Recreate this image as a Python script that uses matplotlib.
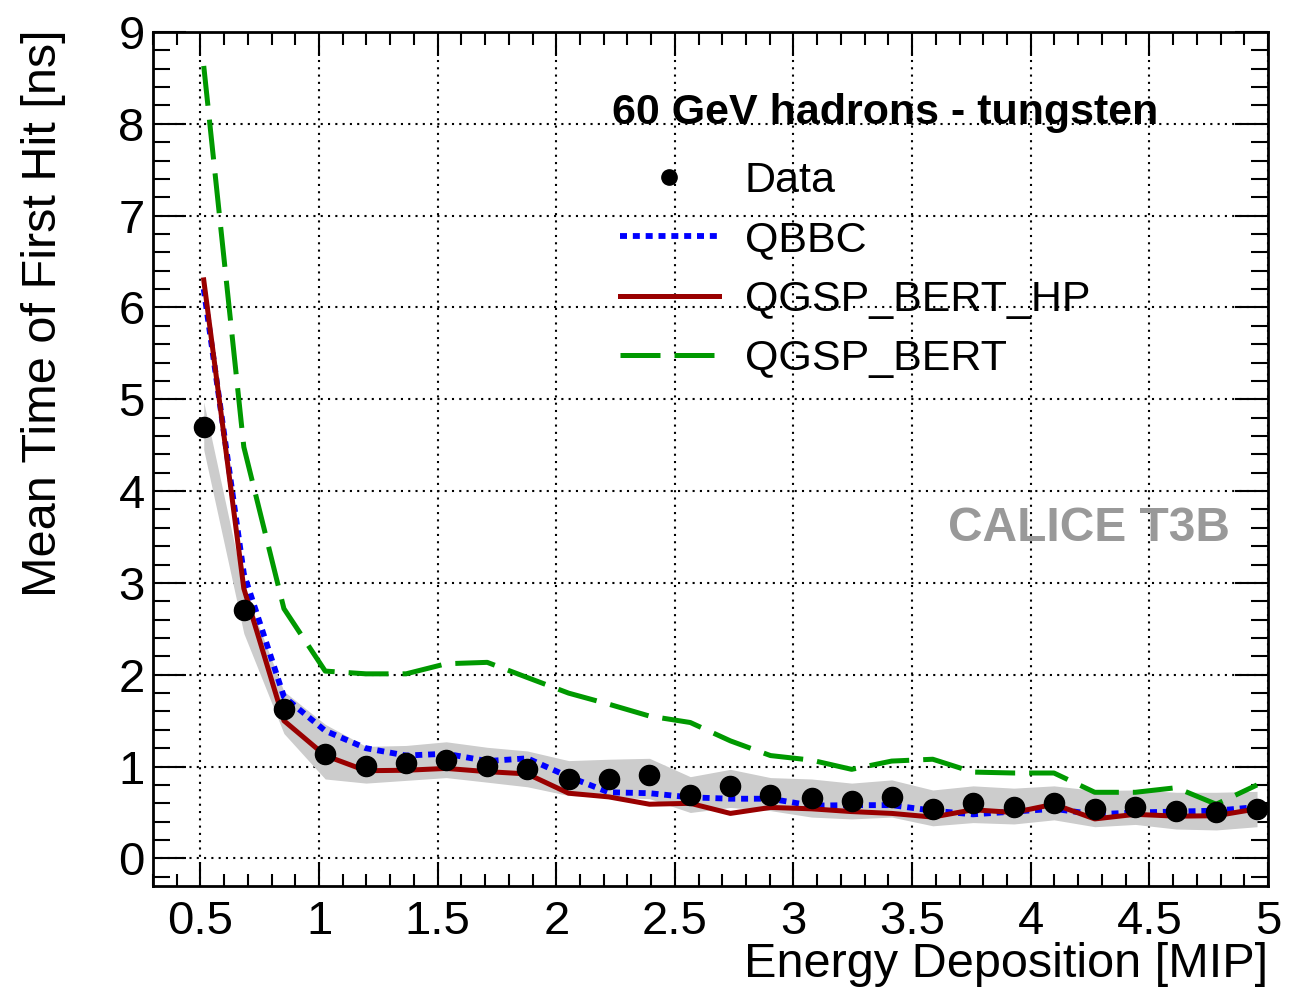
import matplotlib
matplotlib.use("Agg")
import matplotlib.pyplot as plt
from matplotlib.ticker import MultipleLocator
from matplotlib.lines import Line2D

plt.rcParams['font.family'] = ['Liberation Sans', 'DejaVu Sans']

# bin centres [MIP]
energy = [0.514, 0.683, 0.852, 1.026, 1.198, 1.367, 1.536, 1.709, 1.878,
          2.052, 2.221, 2.393, 2.565, 2.734, 2.903, 3.076, 3.245, 3.414,
          3.587, 3.757, 3.929, 4.098, 4.270, 4.441, 4.613, 4.782, 4.954]

# data points [ns]
data_t = [4.70, 2.70, 1.63, 1.14, 1.01, 1.04, 1.075, 1.01, 0.97,
          0.87, 0.87, 0.91, 0.69, 0.79, 0.69, 0.66, 0.62, 0.665,
          0.54, 0.60, 0.56, 0.60, 0.54, 0.56, 0.52, 0.50, 0.54]

# systematic band around data
band_hi = [4.97, 2.95, 1.82, 1.46, 1.22, 1.23, 1.27, 1.21, 1.17,
           1.065, 1.08, 1.09, 0.89, 0.97, 0.88, 0.865, 0.82, 0.855,
           0.745, 0.79, 0.765, 0.79, 0.74, 0.745, 0.72, 0.72, 0.73]
band_lo = [4.45, 2.45, 1.36, 0.865, 0.82, 0.85, 0.88, 0.83, 0.78,
           0.685, 0.665, 0.65, 0.50, 0.555, 0.52, 0.45, 0.43, 0.45,
           0.355, 0.39, 0.375, 0.42, 0.345, 0.37, 0.32, 0.31, 0.345]

# simulations
qbbc = [6.20, 3.10, 1.76, 1.39, 1.20, 1.12, 1.14, 1.06, 1.09,
        0.89, 0.72, 0.71, 0.665, 0.65, 0.65, 0.575, 0.58, 0.58,
        0.52, 0.48, 0.51, 0.54, 0.48, 0.50, 0.51, 0.52, 0.56]
qgsp_bert_hp = [6.30, 2.94, 1.50, 1.12, 0.955, 0.96, 0.98, 0.945, 0.92,
                0.71, 0.67, 0.59, 0.60, 0.49, 0.555, 0.54, 0.51, 0.49,
                0.45, 0.53, 0.50, 0.59, 0.43, 0.48, 0.46, 0.465, 0.54]
qgsp_bert = [8.63, 4.48, 2.72, 2.04, 2.01, 2.01, 2.12, 2.135, 1.97,
             1.80, 1.68, 1.55, 1.48, 1.28, 1.12, 1.07, 0.97, 1.06,
             1.08, 0.94, 0.93, 0.93, 0.72, 0.72, 0.77, 0.59, 0.80]

fig = plt.figure(figsize=(13.03, 9.93), dpi=100)
ax = fig.add_axes([0.1174, 0.1078, 0.8557, 0.8600])

ax.fill_between(energy, band_lo, band_hi, color='#cccccc', lw=0, zorder=1)
ax.plot(energy, qbbc, color='#0000ff', lw=4.2, dashes=(1.2, 1.0), zorder=3)
ax.plot(energy, qgsp_bert_hp, color='#990000', lw=3.6, zorder=4)
ax.plot(energy, qgsp_bert, color='#009900', lw=3.6, dashes=(8, 2.8), zorder=4)
ax.plot(energy, data_t, 'o', color='black', ms=14.5, zorder=5)

ax.set_xlim(0.3, 5.0)
ax.set_ylim(-0.3, 9.0)

ax.xaxis.set_major_locator(MultipleLocator(0.5))
ax.xaxis.set_minor_locator(MultipleLocator(0.1))
ax.yaxis.set_major_locator(MultipleLocator(1))
ax.yaxis.set_minor_locator(MultipleLocator(0.2))
ax.set_xticks([0.5, 1, 1.5, 2, 2.5, 3, 3.5, 4, 4.5, 5])
ax.set_xticklabels(['0.5', '1', '1.5', '2', '2.5', '3', '3.5', '4', '4.5', '5'])

ax.grid(True, which='major', color='black', ls=(0, (1, 2.5)), lw=1.5)
ax.set_axisbelow(True)

ax.tick_params(axis='both', which='both', direction='in', top=True, right=True,
               width=1.5, labelsize=34)
ax.tick_params(axis='x', which='major', length=17, pad=10)
ax.tick_params(axis='x', which='minor', length=9)
ax.tick_params(axis='y', which='major', length=24, pad=6)
ax.tick_params(axis='y', which='minor', length=12)
for s in ax.spines.values():
    s.set_linewidth(2)

ax.set_xlabel('Energy Deposition [MIP]', fontsize=35, loc='right')
ax.xaxis.set_label_coords(1.0, -0.066)
ax.xaxis.label.set_va('top')
ax.set_ylabel('Mean Time of First Hit [ns]', fontsize=35, loc='top')
ax.yaxis.set_label_coords(-0.0780, 1.003)

ax.text(0.4117, 0.905, '60 GeV hadrons - tungsten', transform=ax.transAxes,
        fontsize=31, fontweight='bold', ha='left', va='center', zorder=6)
ax.text(0.966, 0.418, 'CALICE T3B', transform=ax.transAxes, fontsize=34.5,
        fontweight='bold', color='#999999', ha='right', va='center')

handles = [
    Line2D([], [], ls='none', marker='o', color='black', ms=11),
    Line2D([], [], color='#0000ff', lw=4.2, dashes=(1.2, 1.0)),
    Line2D([], [], color='#990000', lw=3.6),
    Line2D([], [], color='#009900', lw=3.6, dashes=(8, 2.8)),
]
labels = ['Data', 'QBBC', 'QGSP_BERT_HP', 'QGSP_BERT']
ax.legend(handles, labels, loc='upper left', bbox_to_anchor=(0.4188, 0.849),
          frameon=False, fontsize=31, handlelength=2.3, handletextpad=0.6,
          labelspacing=0.45, borderpad=0, borderaxespad=0)

fig.savefig('out.png', dpi=100)
